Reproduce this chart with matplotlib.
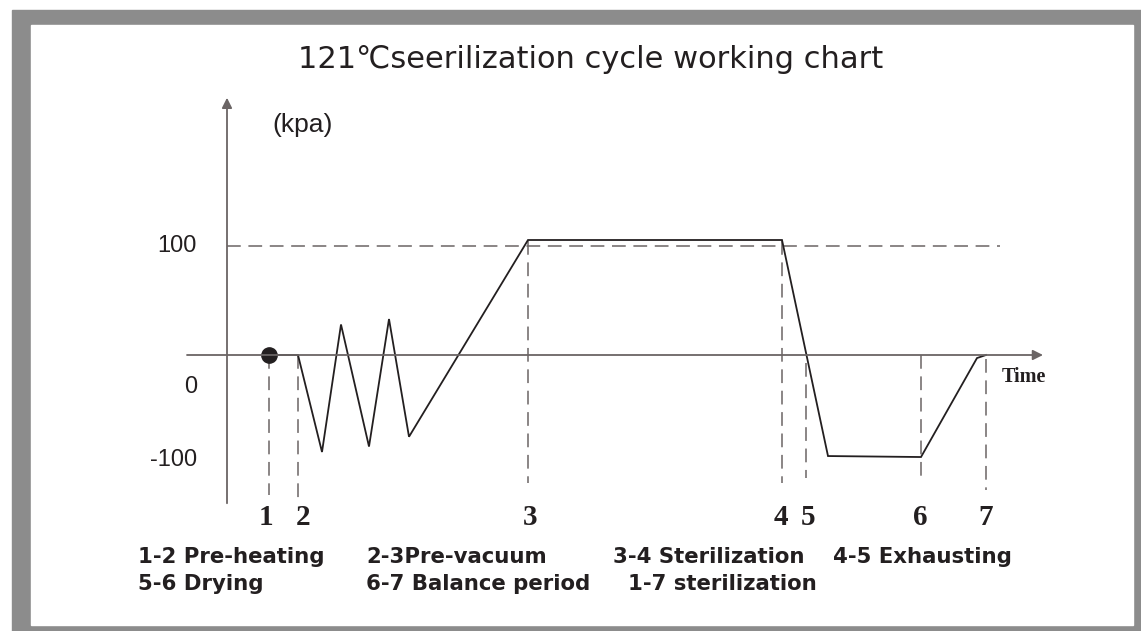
#!/usr/bin/env python3

import matplotlib
matplotlib.use("Agg")
import matplotlib.pyplot as plt
from matplotlib.patches import Rectangle

# stage points of the cycle (time in arbitrary units, pressure in kPa)
stage_labels = ["1", "2", "3", "4", "5", "6", "7"]
stage_times = [4.2, 7.1, 30.1, 55.5, 57.9, 69.4, 75.9]

curve_time = [4.2, 7.1, 9.5, 11.4, 14.2, 16.2, 18.2, 30.1, 55.5, 60.1, 69.4, 75.0, 75.9]
curve_kpa = [0, 0, -89, 28, -84, 33, -75, 105.5, 105.5, -92.7, -93.6, -2.8, 0]

tick_values = ["100", "0", "-100"]
tick_heights = [100, -29, -96]

legend_row1 = ["1-2 Pre-heating", "2-3Pre-vacuum", "3-4 Sterilization", "4-5 Exhausting"]
legend_row2 = ["5-6 Drying", "6-7 Balance period", "1-7 sterilization"]

line_col = "#231f20"
axis_col = "#6b6565"
dash_col = "#6b6565"

W, H = 1141, 631
fig = plt.figure(figsize=(W / 100, H / 100), dpi=100, facecolor="white")

# grey frame
fig.patches.append(Rectangle((12 / W, 0), 1 - 12 / W, 1 - 10 / H,
                             transform=fig.transFigure, color="#8c8c8c", zorder=-5))
fig.patches.append(Rectangle((31 / W, 6 / H), (1133 - 31) / W, 600 / H,
                             transform=fig.transFigure, color="white", zorder=-4))

ax = fig.add_axes([0, 0, 1, 1])
ax.set_facecolor("none")
ax.set_xlim((0 - 227) / 10, (W - 227) / 10)
ax.set_ylim((355 - H) * 100 / 109, 355 * 100 / 109)
ax.axis("off")

# axes with arrows
ax.annotate("", xy=(0, 236), xytext=(0, -136),
            arrowprops=dict(arrowstyle="-|>", color=axis_col, lw=1.3,
                            mutation_scale=15, shrinkA=0, shrinkB=0))
ax.annotate("", xy=(81.6, 0), xytext=(-4, 0),
            arrowprops=dict(arrowstyle="-|>", color=axis_col, lw=1.3,
                            mutation_scale=15, shrinkA=0, shrinkB=0))

# 100 kPa reference line
ax.plot([0, 77.3], [100, 100], color=dash_col, lw=1.1, dashes=(9, 5))

# vertical stage lines
dash_tops = [0, 0, 105, 105, -7, 0, -4]
dash_bottoms = [-128, -136, -117, -117, -113, -117, -124]
for t, top, bot in zip(stage_times, dash_tops, dash_bottoms):
    ax.plot([t, t], [top, bot], color=dash_col, lw=1.1, dashes=(9, 5))

# pressure curve
ax.plot(curve_time, curve_kpa, color=line_col, lw=1.3, solid_joinstyle="miter")
ax.plot(stage_times[0], 0, "o", color=line_col, markersize=11)

# tick texts
for lab, h in zip(tick_values, tick_heights):
    ax.text(-3, h, lab, ha="right", va="center", fontsize=17,
            family="Liberation Sans", color="#231f20")

ax.text(7.6, 211, "(kpa)", ha="center", va="center", fontsize=19,
        family="Liberation Sans", color="#231f20")

stage_label_x = [3.9, 7.6, 30.3, 55.4, 58.1, 69.3, 75.9]
for lab, t in zip(stage_labels, stage_label_x):
    ax.text(t, -149, lab, ha="center", va="center", fontsize=21,
            family="Liberation Serif", weight="bold", color="#231f20")

ax.text(77.5, -20.5, "Time", ha="left", va="center", fontsize=14.5,
        family="Liberation Serif", weight="bold", color="#231f20")

# title
fig.text(591 / W, 1 - 60 / H, "121℃seerilization cycle working chart",
         ha="center", va="center", fontsize=22,
         family=["DejaVu Sans", "Noto Sans CJK SC"], color="#231f20")

# stage legend
row1_x = [138, 366, 613, 833]
row2_x = [138, 366, 628]
for lab, x in zip(legend_row1, row1_x):
    fig.text(x / W, 1 - 557 / H, lab, ha="left", va="center", fontsize=15.3,
             family="DejaVu Sans", weight="bold", color="#231f20")
for lab, x in zip(legend_row2, row2_x):
    fig.text(x / W, 1 - 584 / H, lab, ha="left", va="center", fontsize=15.3,
             family="DejaVu Sans", weight="bold", color="#231f20")

fig.savefig("out.png", dpi=100)
